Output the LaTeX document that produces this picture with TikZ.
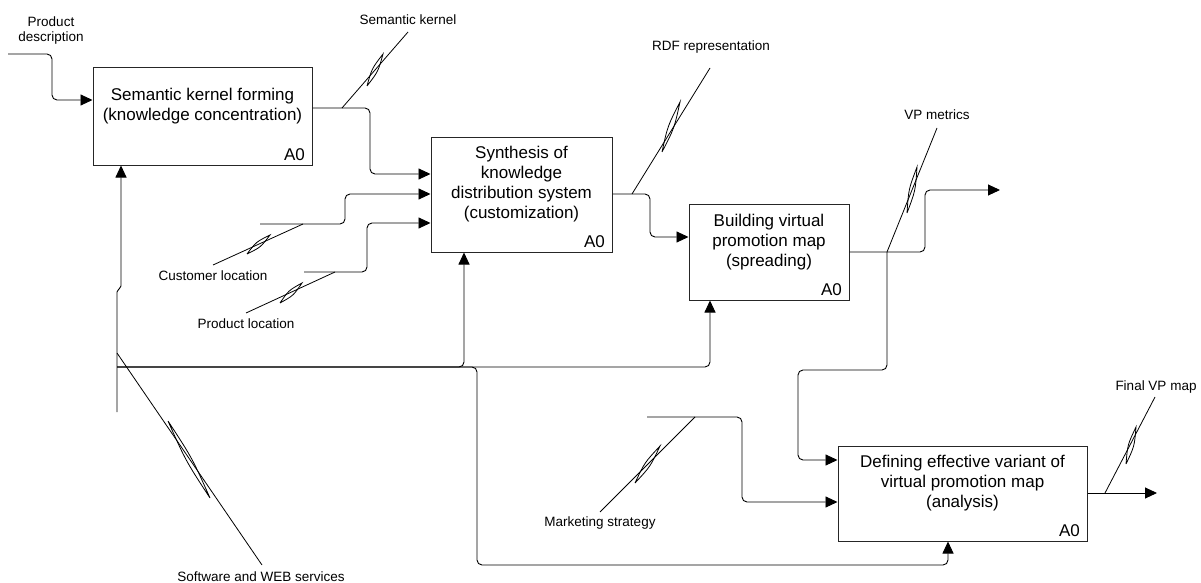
\documentclass[tikz,border=0pt]{standalone}
\usepackage{fontspec}
\setmainfont{Liberation Sans}
\usetikzlibrary{arrows.meta,calc}
\newcommand\squig[4]{\draw[sq] (#1) -- (#2);
  \draw[sq] (#3) .. controls ($(#3)!0.5!(#4)!3.5pt!90:(#4)$) .. (#4) .. controls ($(#3)!0.5!(#4)!3.5pt!-90:(#4)$) .. (#3);}
\begin{document}
\begin{tikzpicture}[x=1pt,y=-1pt,
 box/.style={draw=black!85,line width=1pt,rectangle,inner sep=0pt},
 boxtext/.style={align=center,font=\fontsize{17}{20}\selectfont,inner sep=0pt},
 aname/.style={font=\fontsize{17}{20}\selectfont,inner xsep=7.5pt,inner ysep=5pt,anchor=south east},
 lbl/.style={font=\fontsize{13.5}{15}\selectfont,align=center,inner sep=0pt},
 conn/.style={line width=0.9pt,rounded corners=5pt},
 arr/.style={conn,-{Triangle[length=12pt,width=11pt]}},
 sq/.style={line width=0.8pt}]
\useasboundingbox (0,0) rectangle (1201,583);

% boxes
\node[box,minimum width=219pt,minimum height=97pt] (b1) at (202.5,116.5) {};
\node[box,minimum width=181pt,minimum height=115pt] (b2) at (521.5,194.5) {};
\node[box,minimum width=160pt,minimum height=96pt] (b3) at (769,252) {};
\node[box,minimum width=249pt,minimum height=95pt] (b4) at (962.5,493.5) {};

\node[boxtext] (t1) at ([yshift=10pt]b1.center) {Semantic kernel forming\\(knowledge concentration)};
\node[boxtext] (t2) at ([yshift=10pt]b2.center) {Synthesis of\\knowledge\\distribution system\\(customization)};
\node[boxtext] (t3) at ([yshift=10pt]b3.center) {Building virtual\\promotion map\\(spreading)};
\node[boxtext] (t4) at ([yshift=10pt]b4.center) {Defining effective variant of\\virtual promotion map\\(analysis)};

\node[aname] (a1) at (b1.south east) {A0};
\node[aname] (a2) at (b2.south east) {A0};
\node[aname] (a3) at (b3.south east) {A0};
\node[aname] (a4) at (b4.south east) {A0};

% labels
\node[lbl] (lpd) at (51,30.5) {Product\\description};
\node[lbl] (lsk) at (408,20) {Semantic kernel};
\node[lbl] (lrdf) at (711,47) {RDF representation};
\node[lbl] (lvp) at (937,115) {VP metrics};
\node[lbl] (lcl) at (213,276) {Customer location};
\node[lbl] (lpl) at (246,324) {Product location};
\node[lbl] (lms) at (600,523) {Marketing strategy};
\node[lbl] (lfm) at (1156,387) {Final VP map};
\node[lbl] (lsw) at (261,577) {Software and WEB services};

% coordinates
\coordinate (pd0) at (8,54);
\coordinate (cl0) at (260,224);
\coordinate (pl0) at (304,272);
\coordinate (ms0) at (647,417);
\coordinate (out3) at (1000,190);
\coordinate (out4) at (1157,493);
\coordinate (mech0) at (117,412);
\coordinate (mj) at (117,367);

% inputs / outputs
\draw[arr] (pd0) -- (52,54) -- (52,100) -- (b1.west |- 0,100);
\draw[arr] (b1.east |- 0,108) -- (370,108) -- (370,174) -- (b2.west |- 0,174);
\draw[arr] (cl0) -- (345,224) -- (345,194) -- (b2.west |- 0,194);
\draw[arr] (pl0) -- (367,272) -- (367,223) -- (b2.west |- 0,223);
\draw[arr] (b2.east |- 0,194) -- (650,194) -- (650,237) -- (b3.west |- 0,237);
\draw[arr] (b3.east |- 0,252) -- (925,252) -- (925,190) -- (out3);
\draw[arr] (887,252) -- (887,370) -- (798,370) -- (798,460) -- (b4.west |- 0,460);
\draw[arr] (ms0) -- (742,417) -- (742,502) -- (b4.west |- 0,502);
\draw[arr] (b4.east |- 0,493) -- (out4);

% mechanisms
\draw[arr,rounded corners=2pt] (mech0) -- (117,290) -- (121,288) -- (b1.south -| 121,0);
\draw[arr] (mj) -- (464,367) -- (b2.south -| 464,0);
\draw[arr] (mj) -- (710,367) -- (b3.south -| 710,0);
\draw[arr] (mj) -- (477,367) -- (477,565) -- (948,565) -- (b4.south -| 948,0);

% squiggles
\coordinate (s1p) at (342,108); \coordinate (s1q) at (408,32);
\coordinate (s1a) at (367,86); \coordinate (s1b) at (383,54);
\squig{s1p}{s1q}{s1a}{s1b}
\coordinate (s2p) at (632,194); \coordinate (s2q) at (710,68);
\coordinate (s2a) at (662,152); \coordinate (s2b) at (680,102);
\squig{s2p}{s2q}{s2a}{s2b}
\coordinate (s3p) at (887,252); \coordinate (s3q) at (937,128);
\coordinate (s3a) at (907,213); \coordinate (s3b) at (917,167);
\squig{s3p}{s3q}{s3a}{s3b}
\coordinate (s4p) at (303,224); \coordinate (s4q) at (213,265);
\coordinate (s4a) at (247,254); \coordinate (s4b) at (270,235);
\squig{s4p}{s4q}{s4a}{s4b}
\coordinate (s5p) at (335,272); \coordinate (s5q) at (246,313);
\coordinate (s5a) at (280,303); \coordinate (s5b) at (302,283);
\squig{s5p}{s5q}{s5a}{s5b}
\coordinate (s6p) at (117,353); \coordinate (s6q) at (262,565);
\coordinate (s6a) at (168,421); \coordinate (s6b) at (210,498);
\squig{s6p}{s6q}{s6a}{s6b}
\coordinate (s7p) at (695,417); \coordinate (s7q) at (600,512);
\coordinate (s7a) at (635,483); \coordinate (s7b) at (660,446);
\squig{s7p}{s7q}{s7a}{s7b}
\coordinate (s8p) at (1105,493); \coordinate (s8q) at (1155,397);
\coordinate (s8a) at (1126,464); \coordinate (s8b) at (1136,427);
\squig{s8p}{s8q}{s8a}{s8b}
\end{tikzpicture}
\end{document}
